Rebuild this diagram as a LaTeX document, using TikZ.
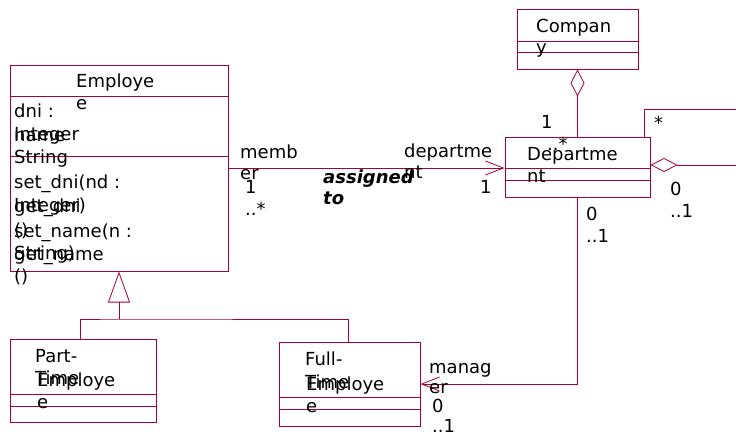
\documentclass[tikz,border=0pt]{standalone}
\usepackage{fontspec}
\setmainfont{DejaVu Sans}
\usetikzlibrary{arrows.meta}
\definecolor{umlred}{HTML}{A80036}
\tikzset{
  cls/.style={draw=umlred, fill=white, line width=1pt, inner sep=0pt},
  link/.style={draw=umlred, line width=0.8pt},
  txt/.style={anchor=base west, inner sep=0pt, font=\fontsize{18}{21}\selectfont},
  navi/.style={link, -{Straight Barb[length=18pt,width=14pt]}},
}
\begin{document}
\begin{tikzpicture}[x=1pt,y=-1pt]
  \useasboundingbox[fill=white] (0,0) rectangle (736,434);
  % classes
  \node[cls, minimum width=218pt, minimum height=206pt] (employee) at (119,168) {};
  \node[cls, minimum width=121pt, minimum height=60pt] (company) at (577.5,39) {};
  \node[cls, minimum width=145pt, minimum height=60pt] (dept) at (577.5,167) {};
  \node[cls, minimum width=146pt, minimum height=83pt] (parttime) at (83,380.5) {};
  \node[cls, minimum width=141pt, minimum height=84pt] (fulltime) at (349.5,384) {};
  \draw[link] ([yshift=-32pt]employee.north west) -- ([yshift=-32pt]employee.north east);
  \draw[link] ([yshift=-92pt]employee.north west) -- ([yshift=-92pt]employee.north east);
  \draw[link] ([yshift=-33pt]company.north west) -- ([yshift=-33pt]company.north east);
  \draw[link] ([yshift=-44pt]company.north west) -- ([yshift=-44pt]company.north east);
  \draw[link] ([yshift=-32pt]dept.north west) -- ([yshift=-32pt]dept.north east);
  \draw[link] ([yshift=-44pt]dept.north west) -- ([yshift=-44pt]dept.north east);
  \draw[link] ([yshift=-56pt]parttime.north west) -- ([yshift=-56pt]parttime.north east);
  \draw[link] ([yshift=-68pt]parttime.north west) -- ([yshift=-68pt]parttime.north east);
  \draw[link] ([yshift=-56pt]fulltime.north west) -- ([yshift=-56pt]fulltime.north east);
  \draw[link] ([yshift=-68pt]fulltime.north west) -- ([yshift=-68pt]fulltime.north east);
  % connectors
  \coordinate (genjoin) at (119,319);
  \coordinate (loop) at (740,109);
  \draw[link, -{Triangle[open,length=31pt,width=22pt]}] (genjoin) -- (employee.south);
  \draw[link] ([xshift=-3pt]parttime.north) |- (genjoin) -| ([xshift=-1.5pt]fulltime.north);
  \draw[navi] (employee.east) -- (employee.east -| dept.west);
  \draw[link, {Diamond[open,length=27pt,width=14pt]}-] (company.south) -- (dept.north);
  \draw[link, -{Diamond[open,length=27pt,width=14pt]}] ([xshift=66.5pt]dept.north) |- (loop) |- ([yshift=2pt]dept.east);
  \draw[navi] (dept.south) |- (fulltime.east);
  % class texts
  \node[txt] (emp1) at (76,87) {Employe};
  \node[txt] (emp2) at (76,109) {e};
  \node[txt] (emp3) at (14,117) {dni :};
  \node[txt] (emp4) at (14,140) {Integer};
  \node[txt] (emp5) at (14,141) {name};
  \node[txt] (emp6) at (14,163) {String};
  \node[txt] (emp7) at (14,188) {set\_dni(nd :};
  \node[txt] (emp8) at (14,211) {Integer)};
  \node[txt] (emp9) at (14,212) {get\_dni};
  \node[txt] (emp10) at (14,236) {()};
  \node[txt] (emp11) at (14,237) {set\_name(n :};
  \node[txt] (emp12) at (14,259) {String)};
  \node[txt] (emp13) at (14,260) {get\_name};
  \node[txt] (emp14) at (14,282) {()};
  \node[txt] (com1) at (536,32) {Compan};
  \node[txt] (com2) at (536,53) {y};
  \node[txt] (dep1) at (527,160) {Departme};
  \node[txt] (dep2) at (527,182) {nt};
  \node[txt] (pt1) at (35,362) {Part-};
  \node[txt] (pt2) at (35,384) {Time};
  \node[txt] (pt3) at (37,386) {Employe};
  \node[txt] (pt4) at (37,408) {e};
  \node[txt] (ft1) at (305,365) {Full-};
  \node[txt] (ft2) at (305,388) {Time};
  \node[txt] (ft3) at (306,390) {Employe};
  \node[txt] (ft4) at (306,412) {e};
  % association labels
  \node[txt] (mem1) at (240,158) {memb};
  \node[txt] (mem2) at (240,179) {er};
  \node[txt] (mem3) at (245,193) {1};
  \node[txt] (mem4) at (245,215) {..*};
  \node[txt, font=\fontsize{18}{21}\selectfont\bfseries\itshape] (asg1) at (323,183) {assigned};
  \node[txt, font=\fontsize{18}{21}\selectfont\bfseries\itshape] (asg2) at (323,204) {to};
  \node[txt] (dpt1) at (404,157) {departme};
  \node[txt] (dpt2) at (404,178) {nt};
  \node[txt] (dpt3) at (480,193) {1};
  \node[txt] (cm1) at (541,128) {1};
  \node[txt] (cm2) at (547,150) {..*};
  \node[txt] (self1) at (654,129) {*};
  \node[txt] (self2) at (670,195) {0};
  \node[txt] (self3) at (670,217) {..1};
  \node[txt] (mg1) at (586,220) {0};
  \node[txt] (mg2) at (586,242) {..1};
  \node[txt] (mg3) at (429,373) {manag};
  \node[txt] (mg4) at (429,393) {er};
  \node[txt] (mg5) at (432,412) {0};
  \node[txt] (mg6) at (432,432) {..1};
\end{tikzpicture}
\end{document}
